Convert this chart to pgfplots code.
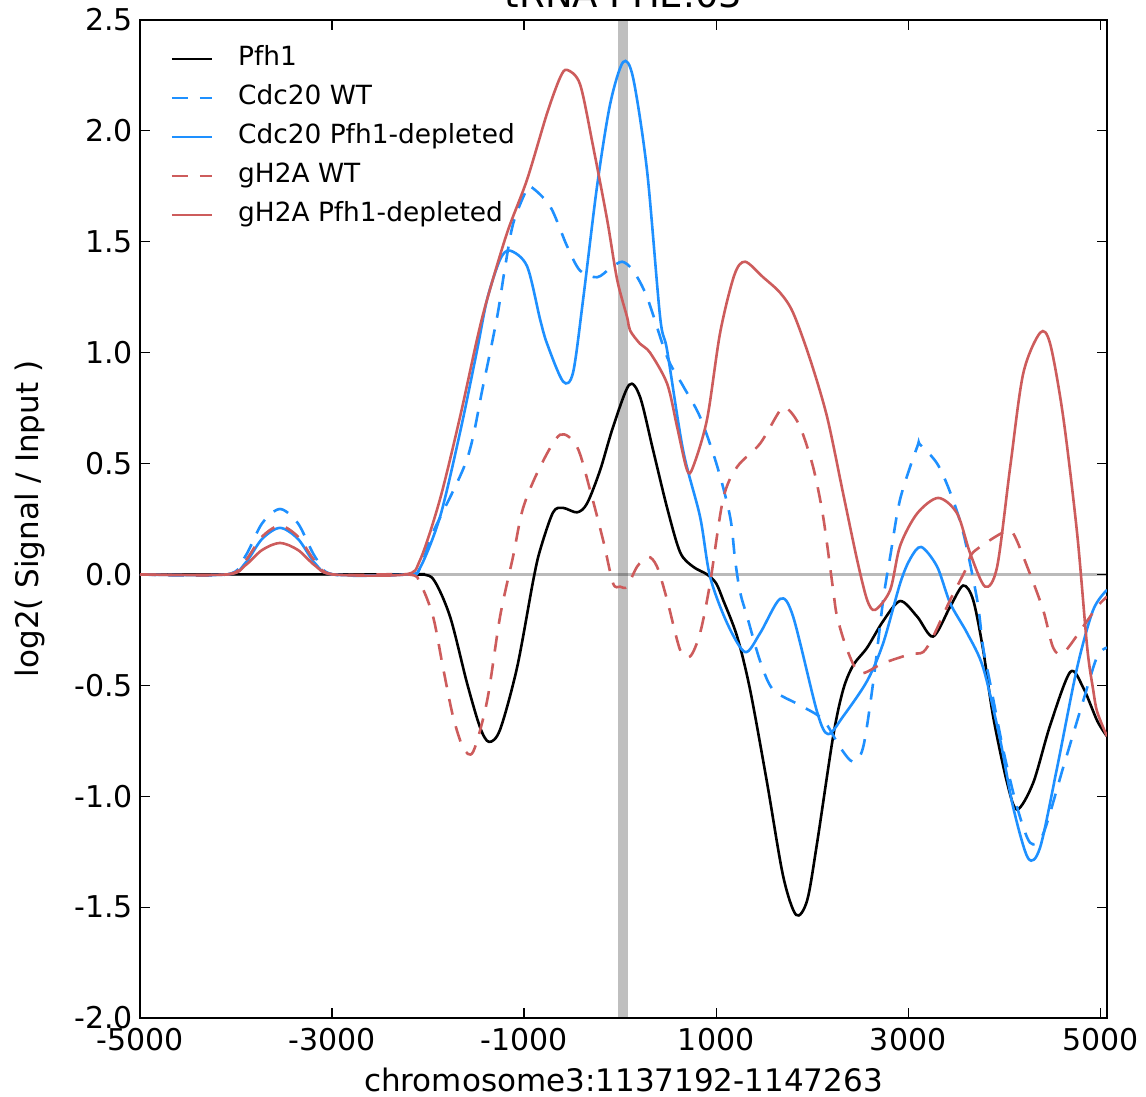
\documentclass[border=0pt]{standalone}
\usepackage{fontspec}
\setmainfont{DejaVu Sans}
\usepackage{pgfplots}
\pgfplotsset{compat=1.18}
\definecolor{dblue}{HTML}{1E90FF}
\definecolor{ired}{HTML}{CD5C5C}
\begin{document}
\begin{tikzpicture}
\begin{axis}[
  scale only axis,
  width=483.5pt, height=499pt,
  xmin=-5000, xmax=5071, ymin=-2.0, ymax=2.5,
  xtick={-5000,-3000,-1000,1000,3000,5000},
  ytick={-2.0,-1.5,-1.0,-0.5,0.0,0.5,1.0,1.5,2.0,2.5},
  /pgf/number format/assume math mode=true,
  x tick label style={/pgf/number format/1000 sep={}, font=\fontsize{15}{18}\selectfont, yshift=-1.5pt},
  y tick label style={/pgf/number format/.cd, fixed, fixed zerofill, precision=1, /tikz/.cd, font=\fontsize{15}{18}\selectfont},
  tick align=inside,
  major tick length=5pt,
  every tick/.style={black, line width=0.6pt},
  axis line style={line width=1.2pt},
  xlabel={chromosome3:1137192-1147263},
  ylabel={log2( Signal / Input )},
  label style={font=\fontsize{15.5}{18}\selectfont},
  xlabel style={at={(axis description cs:0.5,-0.062)}, anchor=center},
  ylabel style={at={(axis description cs:-0.1138,0.5)}, anchor=center},
  title={tRNA PHE.03},
  every axis title shift=0pt,
  title style={font=\fontsize{18.5}{22}\selectfont, at={(axis description cs:0.5,1)}, anchor=base, yshift=6pt},
  legend style={draw=none, fill=none, at={(axis description cs:0.025,0.985)}, anchor=north west,
    font=\fontsize{13.2}{15}\selectfont,
    nodes={text height=10pt, text depth=3pt, inner ysep=3.25pt, inner xsep=3pt},
    /tikz/every odd column/.append style={column sep=9.5pt}},
  legend cell align=left,
  legend image code/.code={\draw[#1] (0pt,0pt) -- (20pt,0pt);},
  every axis plot/.append style={line width=1.3pt, smooth, tension=0.5},
]
\addplot[forget plot, draw=none, fill=black, fill opacity=0.25, sharp plot] coordinates {(-20,-2) (80,-2) (80,2.5) (-20,2.5)} \closedcycle;
\addplot[forget plot, black, opacity=0.27, line width=1.2pt, sharp plot] coordinates {(-5000,0) (5071,0)};

% Pfh1
\addplot[black] coordinates {
(-5000,0) (-2240,0) (-2115,0) (-1948,-0.02) (-1771,-0.19) (-1594,-0.49) (-1458,-0.69) (-1365,-0.755)
(-1250,-0.70) (-1073,-0.42) (-906,-0.03) (-833,0.11) (-698,0.28) (-594,0.30) (-448,0.28) (-344,0.32)
(-208,0.47) (-73,0.665) (94,0.855) (208,0.80) (344,0.56) (490,0.30) (625,0.10) (760,0.035) (906,0.0)
(1000,-0.04) (1073,-0.115) (1219,-0.28) (1354,-0.52) (1531,-0.94) (1698,-1.36) (1833,-1.535) (1948,-1.47)
(2052,-1.21) (2219,-0.73) (2323,-0.52) (2427,-0.41) (2573,-0.33) (2740,-0.21) (2917,-0.12) (3094,-0.19)
(3260,-0.28) (3438,-0.145) (3573,-0.05) (3677,-0.115) (3781,-0.34) (3885,-0.64) (4031,-0.94) (4135,-1.06)
(4302,-0.94) (4479,-0.68) (4688,-0.44) (4823,-0.51) (4969,-0.66) (5071,-0.73)
};
\addlegendentry{Pfh1}

% Cdc20 WT
\addplot[dblue, dash pattern=on 8pt off 6pt] coordinates {
(-5000,0) (-4094,0) (-3906,0.08) (-3729,0.23) (-3542,0.295) (-3354,0.23) (-3177,0.08) (-2990,0) (-2208,0)
(-2083,0.03) (-1948,0.19) (-1594,0.52) (-1427,0.85) (-1281,1.16) (-1200,1.38) (-1115,1.58) (-990,1.72)
(-937,1.75) (-729,1.66) (-552,1.48) (-417,1.37) (-240,1.34) (-104,1.38) (21,1.41) (135,1.37) (281,1.25)
(490,0.98) (656,0.85) (833,0.71) (1010,0.49) (1146,0.26) (1198,0.065) (1250,-0.08) (1323,-0.19)
(1458,-0.39) (1594,-0.52) (1875,-0.59) (2115,-0.655) (2292,-0.78) (2427,-0.845) (2531,-0.78) (2635,-0.49)
(2740,-0.115) (2813,0.08) (2917,0.34) (3094,0.575) (3125,0.585) (3302,0.50) (3438,0.37) (3573,0.19)
(3719,-0.115) (3781,-0.33) (3854,-0.49) (3990,-0.79) (4135,-1.05) (4271,-1.21) (4406,-1.17) (4615,-0.87)
(4823,-0.57) (4969,-0.37) (5071,-0.33)
};
\addlegendentry{Cdc20 WT}

% Cdc20 Pfh1-depleted
\addplot[dblue] coordinates {
(-5000,0) (-4094,0) (-3906,0.05) (-3729,0.16) (-3542,0.21) (-3354,0.16) (-3177,0.05) (-2990,0) (-2208,0)
(-2083,0.03) (-1875,0.26) (-1667,0.64) (-1490,1.01) (-1385,1.24) (-1250,1.42) (-1146,1.46) (-969,1.39)
(-833,1.15) (-760,1.04) (-594,0.87) (-490,0.91) (-385,1.24) (-240,1.75) (-104,2.12) (31,2.31) (135,2.24)
(281,1.82) (417,1.16) (490,1.01) (656,0.56) (833,0.26) (937,-0.01) (1115,-0.22) (1302,-0.35) (1458,-0.265)
(1667,-0.11) (1802,-0.19) (2052,-0.62) (2167,-0.72) (2323,-0.64) (2573,-0.48) (2740,-0.31) (2917,-0.04)
(3021,0.07) (3136,0.124) (3302,0.035) (3438,-0.13) (3615,-0.265) (3781,-0.42) (3958,-0.745) (4094,-1.05)
(4250,-1.28) (4375,-1.23) (4552,-0.87) (4760,-0.42) (4927,-0.16) (5071,-0.07)
};
\addlegendentry{Cdc20 Pfh1-depleted}

% gH2A WT
\addplot[ired, dash pattern=on 8pt off 6pt] coordinates {
(-5000,0) (-4094,0) (-3906,0.06) (-3729,0.17) (-3542,0.22) (-3354,0.17) (-3177,0.06) (-2990,0) (-2208,0)
(-2083,-0.04) (-1948,-0.19) (-1844,-0.42) (-1740,-0.64) (-1635,-0.78) (-1531,-0.80) (-1385,-0.57)
(-1250,-0.19) (-1115,0.08) (-1010,0.30) (-833,0.485) (-625,0.63) (-448,0.575) (-312,0.38) (-177,0.155)
(-73,-0.04) (0,-0.055) (73,-0.055) (177,0.035) (292,0.08) (385,0.035) (490,-0.115) (625,-0.34) (729,-0.37)
(833,-0.265) (937,-0.04) (1073,0.34) (1219,0.485) (1458,0.59) (1667,0.74) (1750,0.745) (1875,0.665)
(2010,0.485) (2115,0.26) (2219,-0.07) (2260,-0.19) (2365,-0.34) (2500,-0.445) (2740,-0.40) (3021,-0.36)
(3156,-0.35) (3260,-0.28) (3438,-0.115) (3615,0.035) (3677,0.10) (3990,0.19) (4094,0.185) (4240,0.035)
(4406,-0.16) (4510,-0.33) (4615,-0.355) (4823,-0.235) (4969,-0.145) (5071,-0.1)
};
\addlegendentry{gH2A WT}

% gH2A Pfh1-depleted
\addplot[ired] coordinates {
(-5000,0) (-4094,0) (-3906,0.04) (-3729,0.11) (-3542,0.142) (-3354,0.11) (-3177,0.04) (-2990,0) (-2240,0)
(-2083,0.065) (-1875,0.34) (-1667,0.71) (-1490,1.06) (-1385,1.24) (-1177,1.54) (-969,1.78) (-760,2.08)
(-625,2.24) (-552,2.275) (-417,2.21) (-281,1.93) (-135,1.60) (-31,1.33) (73,1.16) (104,1.10) (208,1.04)
(312,1.00) (490,0.86) (594,0.665) (698,0.47) (760,0.485) (906,0.70) (1042,1.09) (1190,1.35) (1302,1.41)
(1490,1.34) (1667,1.27) (1802,1.18) (1979,0.97) (2156,0.71) (2323,0.365) (2469,0.065) (2573,-0.115)
(2656,-0.16) (2813,-0.07) (2917,0.13) (3094,0.275) (3313,0.345) (3510,0.275) (3646,0.095) (3802,-0.055)
(3927,0.035) (4063,0.485) (4198,0.905) (4375,1.09) (4479,1.04) (4615,0.71) (4760,0.185) (4865,-0.33)
(4927,-0.52) (4969,-0.62) (5071,-0.73)
};
\addlegendentry{gH2A Pfh1-depleted}
\end{axis}
\pgfresetboundingbox
\path[use as bounding box] ([xshift=-70pt,yshift=-39.5pt]current axis.south west) rectangle ([xshift=19.5pt,yshift=10pt]current axis.north east);
\end{tikzpicture}
\end{document}
